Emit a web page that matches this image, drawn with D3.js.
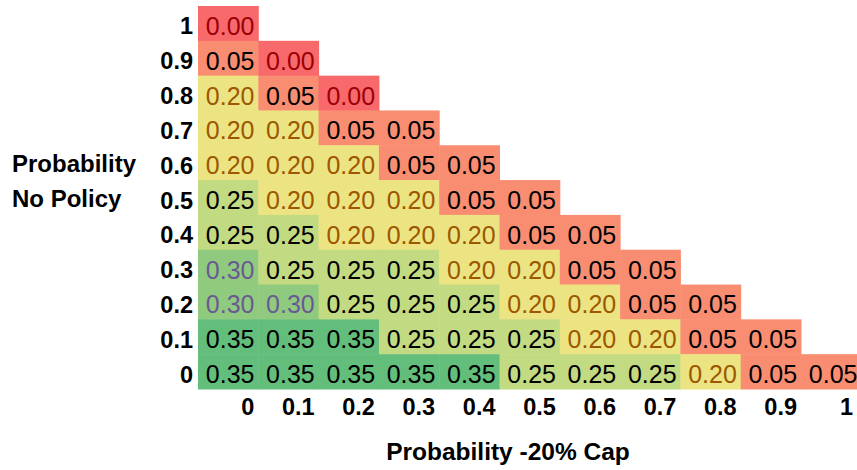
<!DOCTYPE html>
<html><head><meta charset="utf-8">
<script src="https://cdn.jsdelivr.net/npm/d3@7"></script>
<style>
html,body{margin:0;padding:0;background:#fff;}
svg{display:block;font-family:"Liberation Sans",Arial,sans-serif;}
</style></head>
<body>
<svg id="chart" width="857" height="470"></svg>
<script>
const xTicks = ["0","0.1","0.2","0.3","0.4","0.5","0.6","0.7","0.8","0.9","1"];
const yTicks = ["1","0.9","0.8","0.7","0.6","0.5","0.4","0.3","0.2","0.1","0"];
const row_1   = [0.00];
const row_0_9 = [0.05,0.00];
const row_0_8 = [0.20,0.05,0.00];
const row_0_7 = [0.20,0.20,0.05,0.05];
const row_0_6 = [0.20,0.20,0.20,0.05,0.05];
const row_0_5 = [0.25,0.20,0.20,0.20,0.05,0.05];
const row_0_4 = [0.25,0.25,0.20,0.20,0.20,0.05,0.05];
const row_0_3 = [0.30,0.25,0.25,0.25,0.20,0.20,0.05,0.05];
const row_0_2 = [0.30,0.30,0.25,0.25,0.25,0.20,0.20,0.05,0.05];
const row_0_1 = [0.35,0.35,0.35,0.25,0.25,0.25,0.20,0.20,0.05,0.05];
const row_0   = [0.35,0.35,0.35,0.35,0.35,0.25,0.25,0.25,0.20,0.05,0.05];
const rows = [row_1,row_0_9,row_0_8,row_0_7,row_0_6,row_0_5,row_0_4,row_0_3,row_0_2,row_0_1,row_0];
const xTitle = "Probability -20% Cap";
const yTitle = ["Probability","No Policy"];

const fillLevels = [0.00,0.05,0.20,0.25,0.30,0.35];
const fillColors = ["#F8696B","#F98D71","#ECE482","#C2DA81","#90CA7E","#63BE7B"];
const textColors = ["#9C0006","#000000","#9C5700","#000000","#6A5A94","#000000"];
const fillScale = d3.scaleOrdinal().domain(fillLevels).range(fillColors);
const textScale = d3.scaleOrdinal().domain(fillLevels).range(textColors);

const W = 857, H = 470;
const svg = d3.select("#chart");
const x = d3.scaleBand().domain(xTicks).range([198, 198 + 11*60.3]).padding(0);
const y = d3.scaleBand().domain(yTicks).range([6, 389]).padding(0);

const cells = [];
rows.forEach((vals, ri) => vals.forEach((v, ci) => cells.push({xk: xTicks[ci], yk: yTicks[ri], v})));

svg.append("clipPath").attr("id","clip").append("rect").attr("x",0).attr("y",0).attr("width",W).attr("height",H);
const g = svg.append("g").attr("clip-path","url(#clip)");

g.selectAll("rect.cell").data(cells).join("rect")
  .attr("class","cell")
  .attr("x", d => x(d.xk))
  .attr("y", d => y(d.yk))
  .attr("width", x.bandwidth() + 0.5)
  .attr("height", y.bandwidth() + 0.5)
  .attr("fill", d => fillScale(d.v));

g.selectAll("text.val").data(cells).join("text")
  .attr("class","val")
  .attr("x", d => x(d.xk) + x.bandwidth()/2 + 2)
  .attr("y", d => y(d.yk) + y.bandwidth()/2 + 11.5)
  .attr("text-anchor","middle")
  .attr("font-size","25px")
  .attr("fill", d => textScale(d.v))
  .text(d => d3.format(".2f")(d.v));

// y tick labels
svg.selectAll("text.ytick").data(yTicks).join("text")
  .attr("class","ytick")
  .attr("x", 193)
  .attr("y", d => y(d) + y.bandwidth()/2 + 11)
  .attr("text-anchor","end")
  .attr("font-size","23.5px").attr("font-weight","bold")
  .text(d => d);

// x tick labels (right-aligned within columns)
svg.selectAll("text.xtick").data(xTicks).join("text")
  .attr("class","xtick")
  .attr("x", d => Math.min(x(d) + x.bandwidth(), W) - 4)
  .attr("y", 415)
  .attr("text-anchor","end")
  .attr("font-size","23.5px").attr("font-weight","bold")
  .text(d => d);

svg.append("text")
  .attr("x", 508).attr("y", 460)
  .attr("text-anchor","middle")
  .attr("font-size","24.5px").attr("font-weight","bold")
  .text(xTitle);

svg.selectAll("text.ytitle").data(yTitle).join("text")
  .attr("class","ytitle")
  .attr("x", 12)
  .attr("y", (d,i) => y("0.6") + y.bandwidth()/2 + 9 + i*y.bandwidth())
  .attr("font-size","24px").attr("font-weight","bold")
  .text(d => d);
</script>
</body></html>
